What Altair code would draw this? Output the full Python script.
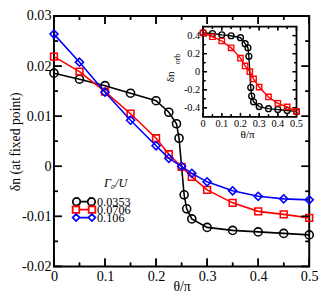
import altair as alt
import pandas as pd

# ---------------- data ----------------
series_names = ["0.0353", "0.0706", "0.106"]
series_colors = ["#000000", "#ff0000", "#0000ff"]

theta_a = [0, 0.05, 0.1, 0.15, 0.2, 0.225, 0.24, 0.245, 0.255, 0.26, 0.27, 0.3, 0.35, 0.4, 0.45, 0.5]
dn_a = [0.0186, 0.0174, 0.0161, 0.0146, 0.0131, 0.0108, 0.0085, 0.0056,
        -0.0057, -0.0085, -0.0105, -0.0122, -0.0128, -0.0131, -0.0134, -0.0137]
theta_b = [0, 0.05, 0.1, 0.15, 0.2, 0.225, 0.25, 0.27, 0.3, 0.35, 0.4, 0.45, 0.5]
dn_b = [0.0219, 0.0189, 0.0149, 0.0105, 0.0056, 0.0024, -0.0001, -0.0021,
        -0.0047, -0.0073, -0.0090, -0.0096, -0.0103]
dn_c = [0.0264, 0.0208, 0.0148, 0.0092, 0.0041, 0.0016, 0.0000, -0.0014,
        -0.0031, -0.0049, -0.0060, -0.0065, -0.0067]

# inset (orbital occupation difference)
orb_a = [0.43, 0.423, 0.408, 0.398, 0.376, 0.31, 0.265, 0.17,
         -0.176, -0.27, -0.334, -0.387, -0.41, -0.42, -0.43, -0.44]
orb_b = [0.43, 0.387, 0.34, 0.264, 0.15, 0.064, 0.0, -0.08,
         -0.17, -0.28, -0.35, -0.39, -0.44]

# ticks / labels
x_major = [0, 0.1, 0.2, 0.3, 0.4, 0.5]
x_minor = [0.05, 0.15, 0.25, 0.35, 0.45]
y_major = [-0.02, -0.01, 0, 0.01, 0.02, 0.03]
y_minor = [-0.015, -0.005, 0.005, 0.015, 0.025]
ix_labels = ["0", "0.1", "0.2", "0.3", "0.4", "0.5"]
iy_major = [-0.4, -0.2, 0, 0.2, 0.4]
iy_labels = ["-0.4", "-0.2", "0", "0.2", "0.4"]
iy_minor = [-0.3, -0.1, 0.1, 0.3]

FONT = "Liberation Serif"
W, H = 261, 256
X_DOM = [0, 0.5]
Y_DOM = [-0.02, 0.03]

# inset placement inside the plot area (pixels from plot origin)
INSET_PX = (152.5, 248.0)   # theta 0 .. 0.5
INSET_PY = (103.0, 10.7)    # orb -0.5 .. 0.5


def px_to_x(p):
    return X_DOM[0] + p / W * (X_DOM[1] - X_DOM[0])


def py_to_y(p):
    return Y_DOM[1] - p / H * (Y_DOM[1] - Y_DOM[0])


AX = px_to_x(INSET_PX[0])
BX = (px_to_x(INSET_PX[1]) - AX) / 0.5
AY = py_to_y(INSET_PY[0])
BY = py_to_y(INSET_PY[1]) - AY


def imx(t):
    return AX + BX * t


def imy(o):
    return AY + BY * (o + 0.5)


IX_EXPR = f"{AX} + {BX} * datum.theta"
IY_EXPR = f"{AY} + {BY} * (datum.orb + 0.5)"

main_df = pd.concat([
    pd.DataFrame({"theta": theta_a, "dn": dn_a, "g": series_names[0]}),
    pd.DataFrame({"theta": theta_b, "dn": dn_b, "g": series_names[1]}),
    pd.DataFrame({"theta": theta_b, "dn": dn_c, "g": series_names[2]}),
])
inset_df = pd.concat([
    pd.DataFrame({"theta": theta_a, "orb": orb_a, "g": series_names[0]}),
    pd.DataFrame({"theta": theta_b, "orb": orb_b, "g": series_names[1]}),
])

xmaj_df = pd.DataFrame({"theta": x_major, "lab": ix_labels})
xmin_df = pd.DataFrame({"theta": x_minor})
ymaj_df = pd.DataFrame({"dn": y_major})
ymin_df = pd.DataFrame({"dn": y_minor})
iymaj_df = pd.DataFrame({"orb": iy_major, "lab": iy_labels})
iymin_df = pd.DataFrame({"orb": iy_minor})
one = pd.DataFrame({"a": [0]})

# ---------------- scales and axes ----------------
xs = alt.Scale(domain=X_DOM, nice=False, zero=False)
ys = alt.Scale(domain=Y_DOM, nice=False, zero=False)
XT, YT = "θ/π", "δn (at fixed point)"

x_axis = alt.Axis(values=x_major, labelExpr="'' + datum.value", ticks=False, tickSize=0,
                  domain=False, grid=False, labelFlush=False, labelFont=FONT,
                  labelFontSize=14.5, labelColor="black", labelPadding=3.5,
                  title=XT, titleFont=FONT, titleFontSize=14, titleFontWeight="normal",
                  titleColor="black", titleY=21, titleBaseline="middle")
y_axis = alt.Axis(values=y_major, labelExpr="'' + datum.value", ticks=False, tickSize=0,
                  domain=False, grid=False, labelFlush=False, labelFont=FONT,
                  labelFontSize=14.5, labelColor="black", labelPadding=3,
                  title=YT, titleFont=FONT, titleFontSize=14,
                  titleFontWeight="normal", titleColor="black", titleX=-39,
                  titleBaseline="middle", titleAngle=270)


def fx(field):
    return alt.X(f"{field}:Q", scale=xs, axis=x_axis, title=XT)


def fy(field):
    return alt.Y(f"{field}:Q", scale=ys, axis=y_axis, title=YT)


def dx_(v):
    return alt.X(datum=v, scale=xs, axis=x_axis, title=XT)


def dy_(v):
    return alt.Y(datum=v, scale=ys, axis=y_axis, title=YT)


layers = []

# ---------------- main panel ----------------
shapes = ["circle", "square", "diamond"]
sizes = [68, 48, 68]
for name, col, shp, sz in zip(series_names, series_colors, shapes, sizes):
    base = alt.Chart(main_df).transform_filter(alt.datum.g == name)
    layers.append(base.mark_line(color=col, strokeWidth=1.6).encode(x=fx("theta"), y=fy("dn")))
    layers.append(base.mark_point(shape=shp, filled=False, size=sz, color=col,
                                  strokeWidth=1.6, opacity=1).encode(x=fx("theta"), y=fy("dn")))

# inward ticks on all four sides (tick marks + rules along the frame)
TW = 1.5
for df_t, ln in ((xmaj_df, 8), (xmin_df, 4)):
    layers.append(alt.Chart(df_t).mark_tick(color="black", thickness=TW, size=ln,
                                            orient="vertical", opacity=1,
                                            yOffset=-ln / 2).encode(
        x=fx("theta"), y=dy_(Y_DOM[0])))
    layers.append(alt.Chart(df_t).mark_tick(color="black", thickness=TW, size=ln,
                                            orient="vertical", opacity=1,
                                            yOffset=ln / 2).encode(
        x=fx("theta"), y=dy_(Y_DOM[1])))
    layers.append(alt.Chart(df_t).mark_rule(color="black", strokeWidth=TW,
                                            y2Offset=-ln).encode(
        x=fx("theta"), y=dy_(Y_DOM[0]), y2=alt.Y2(datum=Y_DOM[0])))
    layers.append(alt.Chart(df_t).mark_rule(color="black", strokeWidth=TW,
                                            y2Offset=ln).encode(
        x=fx("theta"), y=dy_(Y_DOM[1]), y2=alt.Y2(datum=Y_DOM[1])))
for df_t, ln in ((ymaj_df, 8), (ymin_df, 4)):
    layers.append(alt.Chart(df_t).mark_tick(color="black", thickness=TW, size=ln,
                                            orient="horizontal", opacity=1,
                                            xOffset=ln / 2).encode(
        y=fy("dn"), x=dx_(X_DOM[0])))
    layers.append(alt.Chart(df_t).mark_tick(color="black", thickness=TW, size=ln,
                                            orient="horizontal", opacity=1,
                                            xOffset=-ln / 2).encode(
        y=fy("dn"), x=dx_(X_DOM[1])))
    layers.append(alt.Chart(df_t).mark_rule(color="black", strokeWidth=TW,
                                            x2Offset=ln).encode(
        y=fy("dn"), x=dx_(X_DOM[0]), x2=alt.X2(datum=X_DOM[0])))
    layers.append(alt.Chart(df_t).mark_rule(color="black", strokeWidth=TW,
                                            x2Offset=-ln).encode(
        y=fy("dn"), x=dx_(X_DOM[1]), x2=alt.X2(datum=X_DOM[1])))

# legend: "symbol-line-symbol" glyphs, labels and title
leg_paths = [
    "M -2.85 0 A 0.95 0.95 0 1 0 -0.95 0 A 0.95 0.95 0 1 0 -2.85 0 M -0.95 0 L 0.95 0 "
    "M 0.95 0 A 0.95 0.95 0 1 0 2.85 0 A 0.95 0.95 0 1 0 0.95 0",
    "M -2.9 -0.85 L -1.2 -0.85 L -1.2 0.85 L -2.9 0.85 Z M -1.2 0 L 1.2 0 "
    "M 1.2 -0.85 L 2.9 -0.85 L 2.9 0.85 L 1.2 0.85 Z",
    "M -2.9 0 L -2.0 -0.9 L -1.1 0 L -2.0 0.9 Z M -1.1 0 L 1.1 0 "
    "M 1.1 0 L 2.0 -0.9 L 2.9 0 L 2.0 0.9 Z",
]
LEG_X, LEG_Y0, LEG_DY = 30.7, 189.8, 8.1
for i, (name, col, path) in enumerate(zip(series_names, series_colors, leg_paths)):
    yy = LEG_Y0 + i * LEG_DY
    layers.append(alt.Chart(one).mark_point(shape=path, size=64, filled=False, color=col,
                                            strokeWidth=1.8, opacity=1).encode(
        x=alt.value(LEG_X), y=alt.value(yy)))
    layers.append(alt.Chart(one).mark_text(text=name, font=FONT, fontSize=12.5, color="black",
                                           align="left", baseline="middle").encode(
        x=alt.value(LEG_X + 13.3), y=alt.value(yy + 0.5)))
layers.append(alt.Chart(one).mark_text(text="Γ₀/U", font=FONT, fontSize=12.5,
                                       fontStyle="italic", color="black",
                                       align="center", baseline="middle").encode(
    x=alt.value(63), y=alt.value(171)))

# ---------------- inset panel (mapped into the plot area) ----------------
layers.append(alt.Chart(one).mark_rect(fill="white", stroke="black", strokeWidth=1.8).encode(
    x=dx_(imx(0)), x2=alt.X2(datum=imx(0.5)),
    y=dy_(imy(-0.5)), y2=alt.Y2(datum=imy(0.5))))

ITW = 1.3
for df_t, ln in ((xmaj_df, 4), (xmin_df, 2.5)):
    c = alt.Chart(df_t).transform_calculate(ix=IX_EXPR)
    layers.append(c.mark_tick(color="black", thickness=ITW, size=ln, orient="vertical",
                              opacity=1, yOffset=-ln / 2).encode(
        x=fx("ix"), y=dy_(imy(-0.5))))
    layers.append(c.mark_tick(color="black", thickness=ITW, size=ln, orient="vertical",
                              opacity=1, yOffset=ln / 2).encode(
        x=fx("ix"), y=dy_(imy(0.5))))
    layers.append(c.mark_rule(color="black", strokeWidth=ITW, y2Offset=-ln).encode(
        x=fx("ix"), y=dy_(imy(-0.5)), y2=alt.Y2(datum=imy(-0.5))))
    layers.append(c.mark_rule(color="black", strokeWidth=ITW, y2Offset=ln).encode(
        x=fx("ix"), y=dy_(imy(0.5)), y2=alt.Y2(datum=imy(0.5))))
for df_t, ln in ((iymaj_df, 4), (iymin_df, 2.5)):
    c = alt.Chart(df_t).transform_calculate(iy=IY_EXPR)
    layers.append(c.mark_tick(color="black", thickness=ITW, size=ln, orient="horizontal",
                              opacity=1, xOffset=ln / 2).encode(
        y=fy("iy"), x=dx_(imx(0))))
    layers.append(c.mark_tick(color="black", thickness=ITW, size=ln, orient="horizontal",
                              opacity=1, xOffset=-ln / 2).encode(
        y=fy("iy"), x=dx_(imx(0.5))))
    layers.append(c.mark_rule(color="black", strokeWidth=ITW, x2Offset=ln).encode(
        y=fy("iy"), x=dx_(imx(0)), x2=alt.X2(datum=imx(0))))
    layers.append(c.mark_rule(color="black", strokeWidth=ITW, x2Offset=-ln).encode(
        y=fy("iy"), x=dx_(imx(0.5)), x2=alt.X2(datum=imx(0.5))))

for name, col, shp, sz in zip(series_names[:2], series_colors[:2], shapes[:2], [36, 30]):
    base = alt.Chart(inset_df).transform_filter(alt.datum.g == name).transform_calculate(
        ix=IX_EXPR, iy=IY_EXPR)
    layers.append(base.mark_line(color=col, strokeWidth=1.4).encode(x=fx("ix"), y=fy("iy")))
    layers.append(base.mark_point(shape=shp, filled=False, size=sz, color=col,
                                  strokeWidth=1.4, opacity=1).encode(x=fx("ix"), y=fy("iy")))

layers.append(alt.Chart(xmaj_df).transform_calculate(ix=IX_EXPR).mark_text(
    font=FONT, fontSize=10.5, color="black", baseline="middle", dy=7).encode(
    x=fx("ix"), y=dy_(imy(-0.5)), text="lab:N"))
layers.append(alt.Chart(iymaj_df).transform_calculate(iy=IY_EXPR).mark_text(
    font=FONT, fontSize=10.5, color="black", baseline="middle", align="right", dx=-3).encode(
    y=fy("iy"), x=dx_(imx(0)), text="lab:N"))
layers.append(alt.Chart(one).mark_text(text="θ/π", font=FONT, fontSize=11.5,
                                       color="black", baseline="middle").encode(
    x=alt.value(198), y=alt.value(122)))
layers.append(alt.Chart(one).mark_text(text="δn", font=FONT, fontSize=11.5,
                                       color="black", baseline="middle",
                                       angle=270).encode(
    x=alt.value(120), y=alt.value(62)))
layers.append(alt.Chart(one).mark_text(text="orb", font=FONT, fontSize=8,
                                       color="black", baseline="middle",
                                       angle=270).encode(
    x=alt.value(127), y=alt.value(44)))

chart = alt.layer(*layers).properties(
    width=W, height=H,
    padding={"left": 47, "top": 5, "right": 10, "bottom": 29},
    autosize=alt.AutoSizeParams(type="none"),
    background="white",
).configure_view(stroke="black", strokeWidth=2)

chart.save("out.html", embed_options={"renderer": "svg", "actions": False})
